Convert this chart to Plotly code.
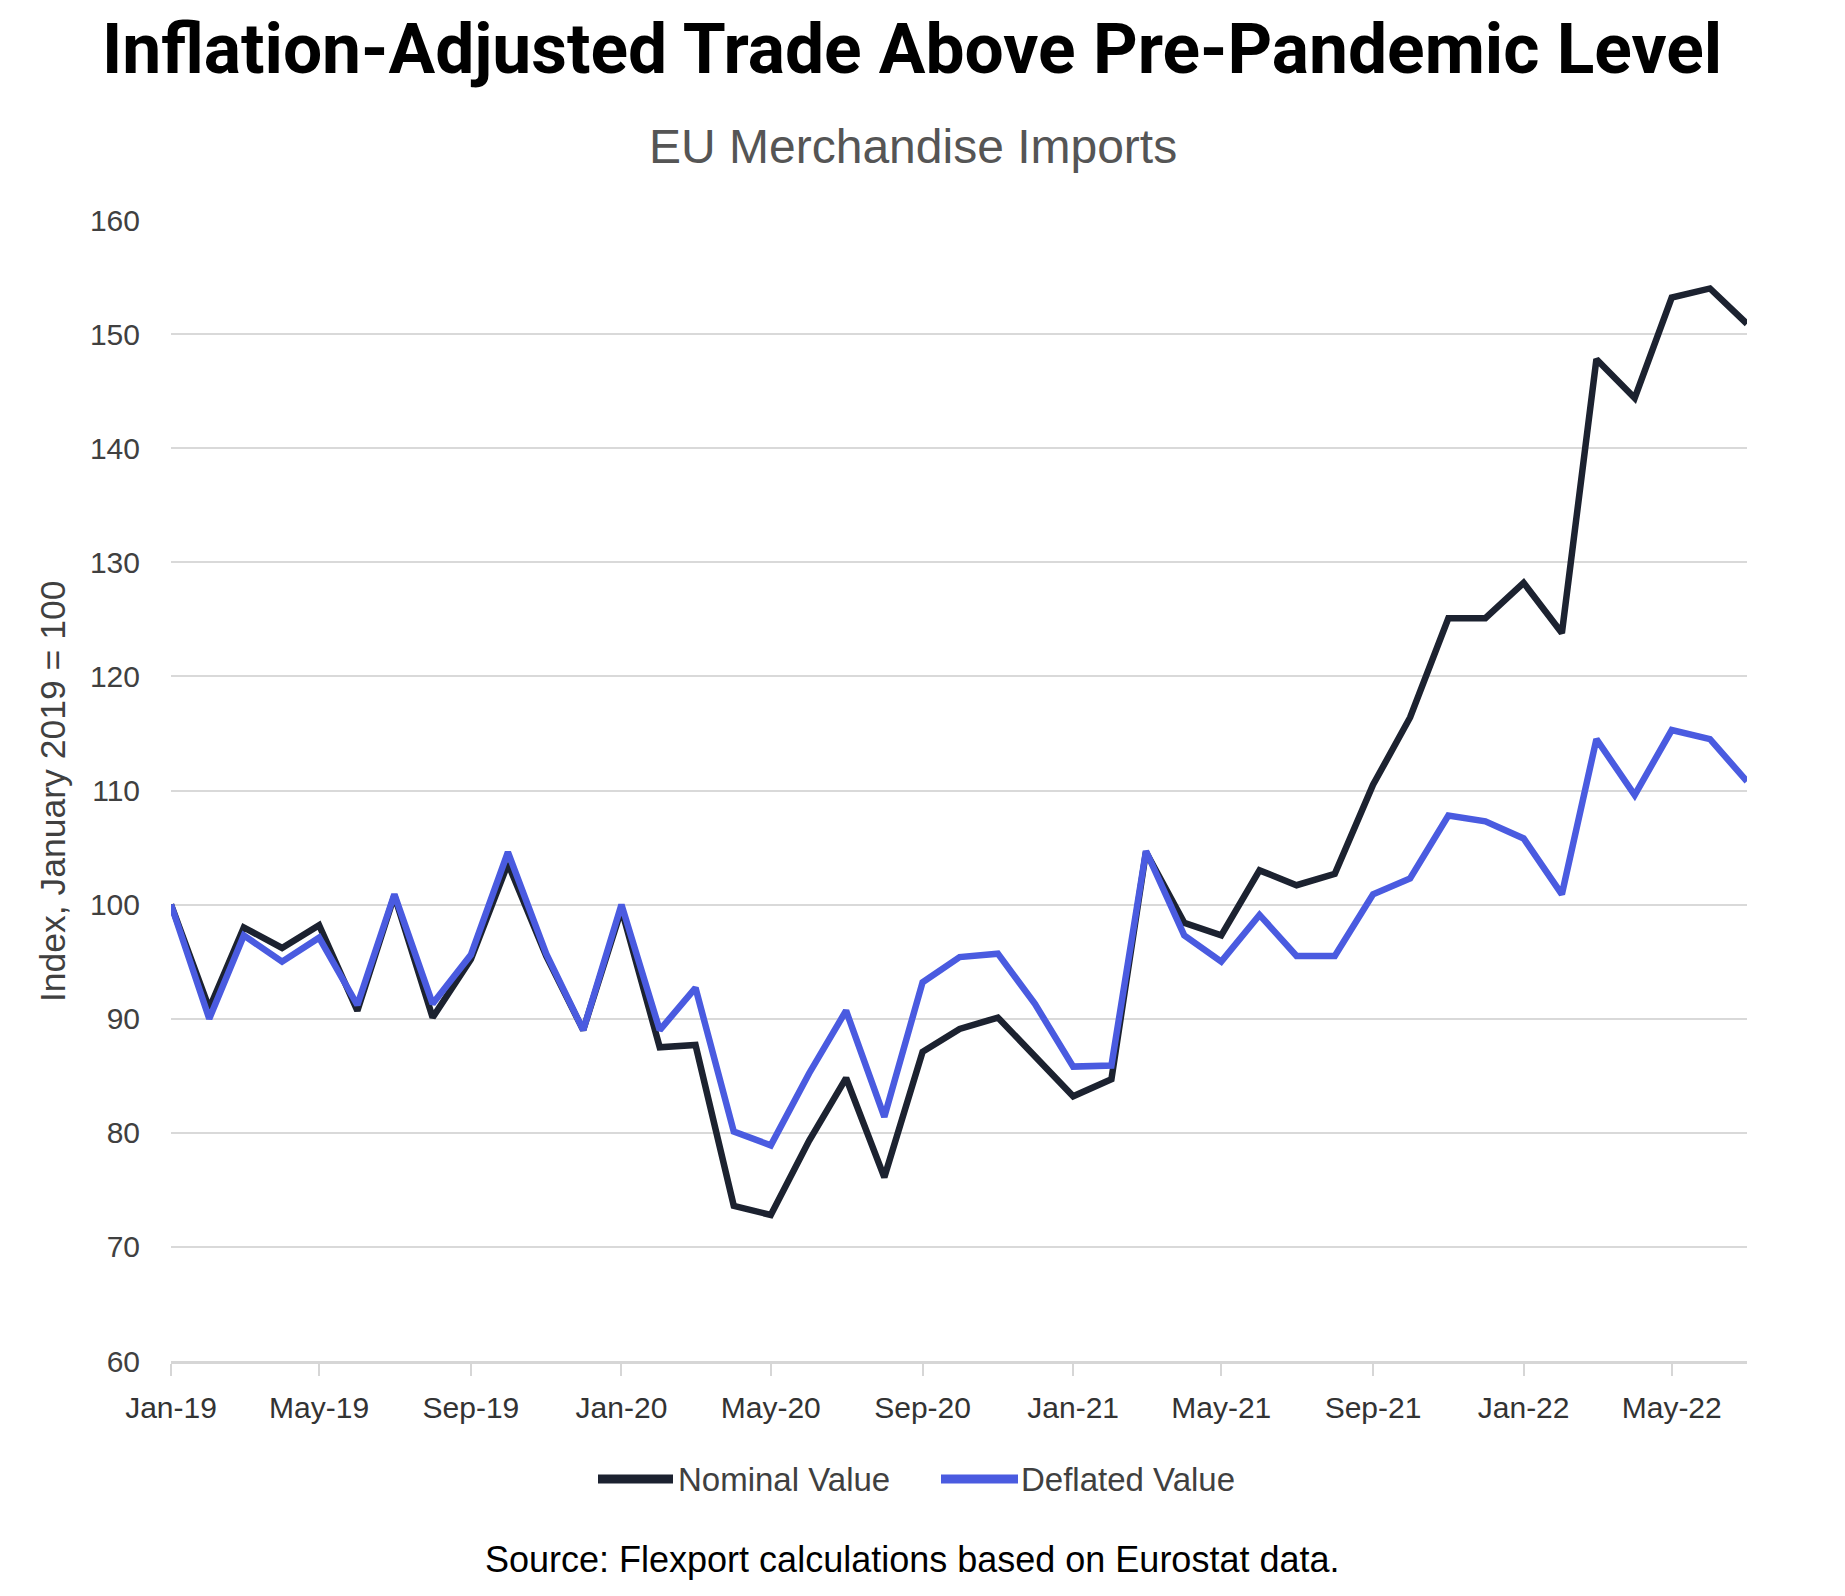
import plotly.graph_objects as go

months = [
    "2019-01-01", "2019-02-01", "2019-03-01", "2019-04-01", "2019-05-01", "2019-06-01",
    "2019-07-01", "2019-08-01", "2019-09-01", "2019-10-01", "2019-11-01", "2019-12-01",
    "2020-01-01", "2020-02-01", "2020-03-01", "2020-04-01", "2020-05-01", "2020-06-01",
    "2020-07-01", "2020-08-01", "2020-09-01", "2020-10-01", "2020-11-01", "2020-12-01",
    "2021-01-01", "2021-02-01", "2021-03-01", "2021-04-01", "2021-05-01", "2021-06-01",
    "2021-07-01", "2021-08-01", "2021-09-01", "2021-10-01", "2021-11-01", "2021-12-01",
    "2022-01-01", "2022-02-01", "2022-03-01", "2022-04-01", "2022-05-01", "2022-06-01",
    "2022-07-01",
]

nominal = [
    100.0, 90.9, 98.0, 96.2, 98.2, 90.7, 100.8, 90.1, 95.2, 103.6, 95.5, 89.0,
    99.6, 87.5, 87.7, 73.6, 72.8, 79.3, 84.8, 76.1, 87.1, 89.1, 90.1, 86.7,
    83.2, 84.7, 104.6, 98.4, 97.3, 103.0, 101.7, 102.7, 110.5, 116.4, 125.1, 125.1,
    128.2, 123.8, 147.8, 144.4, 153.2, 154.0, 150.9,
]

deflated = [
    100.0, 90.0, 97.3, 95.0, 97.1, 91.2, 100.9, 91.3, 95.6, 104.6, 95.7, 89.0,
    100.0, 89.0, 92.7, 80.1, 78.9, 85.2, 90.7, 81.4, 93.2, 95.4, 95.7, 91.3,
    85.8, 85.9, 104.7, 97.3, 95.0, 99.1, 95.5, 95.5, 100.9, 102.3, 107.8, 107.3,
    105.8, 100.9, 114.5, 109.6, 115.3, 114.5, 110.8,
]

series_names = ["Nominal Value", "Deflated Value"]
series_colors = ["#1c2230", "#4a5be0"]

title_text = "Inflation-Adjusted Trade Above Pre-Pandemic Level"
subtitle_text = "EU Merchandise Imports"
source_text = "Source: Flexport calculations based on Eurostat data."
y_title = "Index, January 2019 = 100"

W, H = 1845, 1596
ml, mr, mt, mb = 163, 106, 212, 243
pw = W - ml - mr
ph = H - mt - mb

def px(xf):
    return (xf - ml) / pw

def py(yf):
    return (H - mb - yf) / ph

fig = go.Figure()
for name, vals, col in zip(series_names, [nominal, deflated], series_colors):
    fig.add_trace(go.Scatter(
        x=months, y=vals, mode="lines", name=name, showlegend=False,
        line=dict(color=col, width=6.5),
    ))

font_main = "Liberation Sans, Arial, sans-serif"

fig.update_layout(
    width=W, height=H,
    margin=dict(l=ml, r=mr, t=mt, b=mb),
    paper_bgcolor="white", plot_bgcolor="white",
    font=dict(family=font_main, color="#404040", size=30),
    title=dict(
        text="<b>" + title_text + "</b>",
        x=904 / W, xref="container", xanchor="center",
        y=1 - 41 / H, yref="container", yanchor="middle",
        font=dict(family="Roboto, sans-serif", size=69.5, color="#000000"),
    ),
    showlegend=False,
    xaxis=dict(
        type="date",
        range=["2019-01-01", "2022-07-01"],
        tick0="2019-01-01", dtick="M4", tickformat="%b-%y",
        showgrid=False, zeroline=False,
        showline=True, linecolor="#d6d6d6", linewidth=3,
        ticks="outside", ticklen=12, tickcolor="#d6d6d6", tickwidth=2,
        ticklabelstandoff=6,
        tickfont=dict(size=30, color="#333333"),
    ),
    yaxis=dict(
        range=[60, 160], dtick=10, tick0=60,
        showgrid=True, gridcolor="#d9d9d9", gridwidth=2,
        zeroline=False, showline=False, ticks="",
        ticklabelstandoff=30,
        tickfont=dict(size=30, color="#404040"),
    ),
)

# Y axis title
fig.add_annotation(
    text=y_title, xref="paper", yref="paper",
    x=px(45), y=py(784), xanchor="center", yanchor="middle",
    textangle=-90, showarrow=False,
    font=dict(size=35.5, color="#404040", family=font_main),
)

# Subtitle
fig.add_annotation(
    text=subtitle_text, xref="paper", yref="paper",
    x=px(905), y=py(139), xanchor="center", yanchor="middle", showarrow=False,
    font=dict(size=48, color="#555555", family=font_main),
)

# Source
fig.add_annotation(
    text=source_text, xref="paper", yref="paper",
    x=px(904), y=py(1551), xanchor="center", yanchor="middle", showarrow=False,
    font=dict(size=36, color="#000000", family=font_main),
)

# Custom legend
leg_y = py(1471)
leg_items = [(590, 665, 668), (933, 1010, 1011)]
for (x0, x1, xt), name, col in zip(leg_items, series_names, series_colors):
    fig.add_shape(
        type="line", xref="paper", yref="paper",
        x0=px(x0), x1=px(x1), y0=leg_y, y1=leg_y,
        line=dict(color=col, width=9),
    )
    fig.add_annotation(
        text=name, xref="paper", yref="paper",
        x=px(xt), y=leg_y, xanchor="left", yanchor="middle", showarrow=False,
        font=dict(size=33, color="#404040", family=font_main),
    )

fig.write_html("out.html")
